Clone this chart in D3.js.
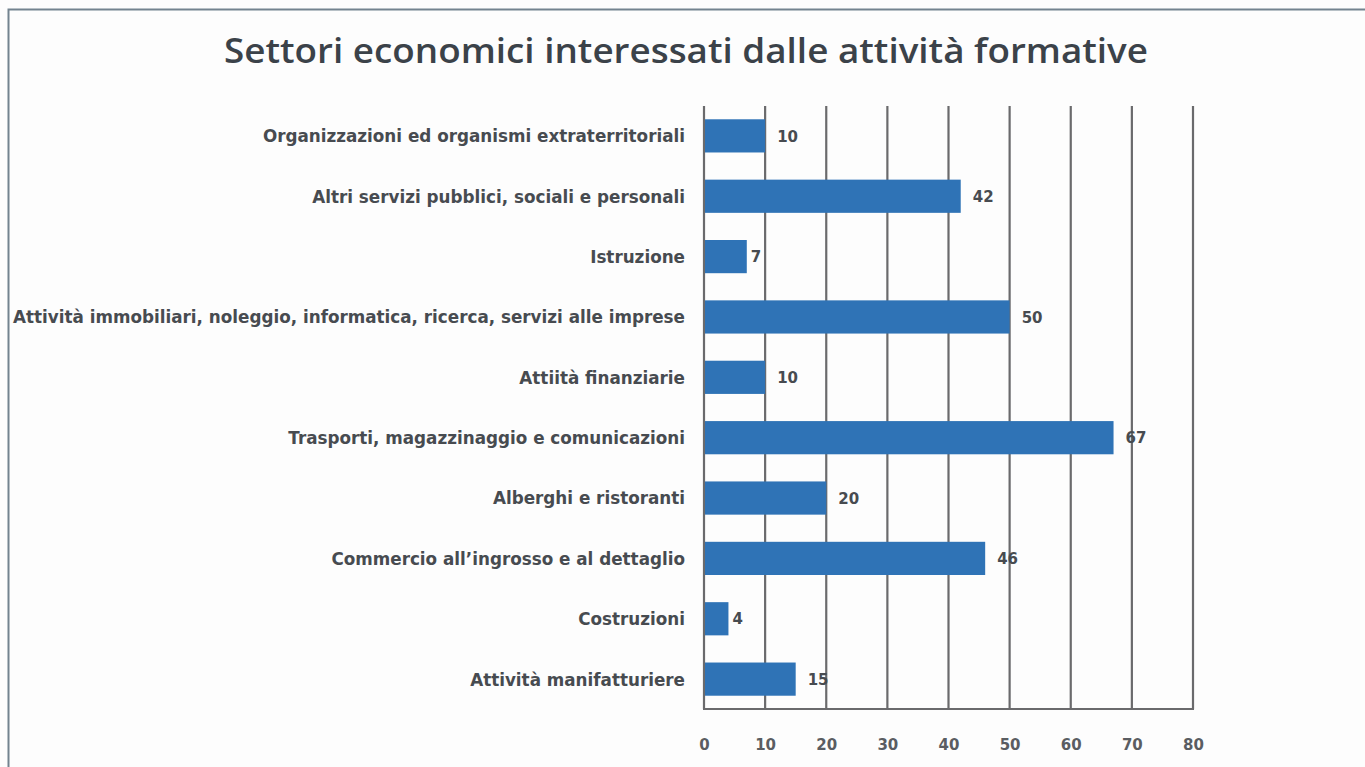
<!DOCTYPE html>
<html>
<head>
<meta charset="utf-8">
<script src="https://cdn.jsdelivr.net/npm/d3@7"></script>
<style>
  html, body { margin: 0; padding: 0; background: #fdfdfd; }
  svg { display: block; }
</style>
</head>
<body>
<svg id="chart" width="1365" height="767"></svg>
<script>
// Sectors (top to bottom) and number of training activities per sector
const categories = [
  "Organizzazioni ed organismi extraterritoriali",
  "Altri servizi pubblici, sociali e personali",
  "Istruzione",
  "Attività immobiliari, noleggio, informatica, ricerca, servizi alle imprese",
  "Attiità finanziarie",
  "Trasporti, magazzinaggio e comunicazioni",
  "Alberghi e ristoranti",
  "Commercio all’ingrosso e al dettaglio",
  "Costruzioni",
  "Attività manifatturiere"
];
const values = [10, 42, 7, 50, 10, 67, 20, 46, 4, 15];
const xTicks = [0, 10, 20, 30, 40, 50, 60, 70, 80];
const title = "Settori economici interessati dalle attività formative";

const svg = d3.select("#chart");
const W = 1365, H = 767;
const plot = { left: 704, right: 1193, top: 106, bottom: 709 };

// Frame: left and top edges only
svg.append("path")
  .attr("d", `M8.5,${H} L8.5,9.5 L${W},9.5`)
  .attr("fill", "none")
  .attr("stroke", "#73838f")
  .attr("stroke-width", 2);

svg.append("text")
  .attr("x", 686).attr("y", 63)
  .attr("text-anchor", "middle")
  .attr("font-family", "'Open Sans', sans-serif")
  .attr("font-weight", 600)
  .attr("font-size", 35)
  .attr("fill", "#3b4249")
  .attr("textLength", 924)
  .attr("lengthAdjust", "spacingAndGlyphs")
  .text(title);

const x = d3.scaleLinear().domain([0, 80]).range([plot.left, plot.right]);
const y = d3.scaleBand().domain(categories).range([plot.top, plot.bottom]).paddingInner(0.45).paddingOuter(0.22);

// Vertical grid lines at each tick
svg.append("g")
  .selectAll("line")
  .data(xTicks)
  .join("line")
  .attr("x1", d => x(d)).attr("x2", d => x(d))
  .attr("y1", plot.top).attr("y2", plot.bottom)
  .attr("stroke", "#6a6a6c")
  .attr("stroke-width", 2.2);

// Baseline
svg.append("line")
  .attr("x1", x(0) - 1).attr("x2", x(80) + 1)
  .attr("y1", plot.bottom).attr("y2", plot.bottom)
  .attr("stroke", "#6a6a6c")
  .attr("stroke-width", 2.2);

// X tick labels
const xAxis = d3.axisBottom(x).tickValues(xTicks).tickSize(0).tickPadding(0);
const gx = svg.append("g")
  .attr("transform", `translate(0,${plot.bottom + 30})`)
  .call(xAxis);
gx.select(".domain").remove();
gx.selectAll("text")
  .attr("font-family", "DejaVu Sans, sans-serif")
  .attr("font-size", 15)
  .attr("font-weight", "bold")
  .attr("fill", "#5a5d62");

// Category labels
const yAxis = d3.axisLeft(y).tickSize(0).tickPadding(0);
const gy = svg.append("g")
  .attr("transform", `translate(685,0)`)
  .call(yAxis);
gy.select(".domain").remove();
gy.selectAll("text")
  .attr("font-family", "DejaVu Sans, sans-serif")
  .attr("font-size", 16.8)
  .attr("font-weight", "bold")
  .attr("fill", "#474b50")
  .attr("dy", "0.38em");

// Bars
svg.append("g")
  .selectAll("rect")
  .data(values)
  .join("rect")
  .attr("x", x(0) + 1)
  .attr("y", (d, i) => y(categories[i]))
  .attr("width", d => x(d) - x(0) - 1)
  .attr("height", y.bandwidth())
  .attr("fill", "#2f73b6");

// Value labels
svg.append("g")
  .selectAll("text")
  .data(values)
  .join("text")
  .attr("x", d => x(d) + (d < 10 ? 4 : 12))
  .attr("y", (d, i) => y(categories[i]) + y.bandwidth() / 2)
  .attr("dy", "0.38em")
  .attr("font-family", "DejaVu Sans, sans-serif")
  .attr("font-size", 15)
  .attr("font-weight", "bold")
  .attr("fill", "#474b50")
  .text(d => d);
</script>
</body>
</html>
